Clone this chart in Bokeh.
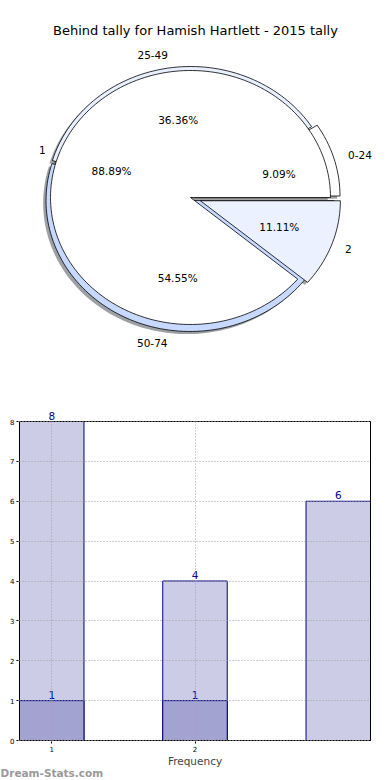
import numpy as np
from bokeh.plotting import figure
from bokeh.models import Range1d, FixedTicker, LabelSet, ColumnDataSource, Title
from bokeh.layouts import column
from bokeh.embed import file_html
from bokeh.resources import INLINE
from bokeh.core.properties import value

# ---------------- data ----------------
title_text = "Behind tally for Hamish Hartlett - 2015 tally"

outer_labels = ["0-24", "25-49", "50-74"]
outer_values = [1, 4, 6]
outer_colors = ["#ffffff", "#e8efff", "#c8d9ff"]
outer_explode = [0.04, 0.0, 0.023]

inner_labels = ["1", "2"]
inner_values = [8, 1]
inner_colors = ["#ffffff", "#ebf1ff"]
inner_explode = [0.0, 0.075]

bar_x = [1, 2, 3]
bar_back = [8, 4, 6]
bar_front_x = [1, 2]
bar_front = [1, 1]
x_ticks = [1, 2]
y_ticks = [0, 1, 2, 3, 4, 5, 6, 7, 8]
x_label = "Frequency"
watermark = "Dream-Stats.com"

FONT = "DejaVu Sans"

# ---------------- pie ----------------
CX, CY = 190.0, 197.0
OUT_RX, OUT_RY = 144.0, 131.0
IN_RX, IN_RY = 140.0, 127.0
SH = 0.02


def pie_geometry(vals, explode, rx, ry):
    fr = np.array(vals, dtype=float) / float(sum(vals))
    edges = np.concatenate([[0.0], np.cumsum(fr)]) * 2 * np.pi
    xs, ys, centers, mids = [], [], [], []
    for i in range(len(vals)):
        a0, a1 = edges[i], edges[i + 1]
        mid = 0.5 * (a0 + a1)
        ox = CX + explode[i] * rx * np.cos(mid)
        oy = CY - explode[i] * ry * np.sin(mid)
        t = np.linspace(a0, a1, max(8, int(200 * fr[i])))
        xs.append([ox] + list(ox + rx * np.cos(t)))
        ys.append([oy] + list(oy - ry * np.sin(t)))
        centers.append((ox, oy))
        mids.append(mid)
    return xs, ys, centers, mids, fr


def shade(c):
    c = c.lstrip("#")
    r, g, b = (int(c[k:k + 2], 16) for k in (0, 2, 4))
    return "#%02x%02x%02x" % (int(r * 0.3), int(g * 0.3), int(b * 0.3))


pie = figure(width=390, height=378, x_range=Range1d(0, 390), y_range=Range1d(378, 0),
             output_backend="svg", toolbar_location=None, min_border=0,
             x_axis_location=None, y_axis_location=None, frame_align=False)
pie.grid.visible = False
pie.outline_line_color = None
pie.background_fill_color = "white"

geoms = [
    (outer_labels, outer_values, outer_colors, outer_explode, OUT_RX, OUT_RY),
    (inner_labels, inner_values, inner_colors, inner_explode, IN_RX, IN_RY),
]
computed = [pie_geometry(v, e, rx, ry) + (labs, cols, rx, ry)
            for (labs, v, cols, e, rx, ry) in geoms]

# shadows first (all below wedges)
for xs, ys, centers, mids, fr, labs, cols, rx, ry in computed:
    sxs = [[x - SH * rx for x in xx] for xx in xs]
    sys_ = [[y + SH * ry for y in yy] for yy in ys]
    pie.patches(sxs, sys_, fill_color=[shade(c) for c in cols], fill_alpha=0.5, line_color=None)

# wedges
for xs, ys, centers, mids, fr, labs, cols, rx, ry in computed:
    pie.patches(xs, ys, fill_color=cols, line_color="black", line_width=0.8)

# labels
for xs, ys, centers, mids, fr, labs, cols, rx, ry in computed:
    for (ox, oy), mid, f, lab in zip(centers, mids, fr, labs):
        lx = ox + 1.1 * rx * np.cos(mid)
        ly = oy - 1.1 * ry * np.sin(mid)
        pie.text([lx], [ly], text=[lab], text_font=value(FONT), text_font_size="10.5px",
                 text_align="left" if np.cos(mid) > 0 else "right", text_baseline="middle",
                 text_color="black")
        px = ox + 0.6 * rx * np.cos(mid)
        py = oy - 0.6 * ry * np.sin(mid)
        pie.text([px], [py], text=["%.2f%%" % (100 * f)], text_font=value(FONT),
                 text_font_size="10.5px", text_align="center", text_baseline="middle",
                 text_color="black")

pie.text([195], [30], text=[title_text], text_font=value(FONT), text_font_size="13px",
         text_align="center", text_baseline="middle", text_color="black")

# ---------------- bars ----------------
X_LO, X_HI = 0.775, 3.225           # plot box in data units
PXU_X, PXU_Y = 143.27, 39.875       # pixels per data unit
Y_TOP = max(y_ticks)
x_pad = 1.0 / PXU_X
y_pad_lo = 1.0 / PXU_Y
y_pad_hi = 43.0 / PXU_Y

bars = figure(width=390, height=402,
              x_range=Range1d(X_LO - x_pad, X_HI + x_pad),
              y_range=Range1d(-y_pad_lo, Y_TOP + y_pad_hi),
              output_backend="svg", toolbar_location=None, frame_align=False,
              min_border_left=18, min_border_right=19, min_border_top=0, min_border_bottom=39)
bars.outline_line_color = None

bars.vbar(x=bar_x, top=bar_back, width=0.45, bottom=0, fill_color="#ccccE6",
          line_color="#000080", line_width=1)
bars.vbar(x=bar_front_x, top=bar_front, width=0.45, bottom=0, fill_color="#a3a3d1",
          line_color="#000080", line_width=1)

# plot box
bars.quad(left=[X_LO], right=[X_HI], bottom=[0], top=[Y_TOP], fill_color=None,
          line_color="black", line_width=1)

src_back = ColumnDataSource(dict(x=bar_x, y=bar_back, t=[str(v) for v in bar_back]))
src_front = ColumnDataSource(dict(x=bar_front_x, y=bar_front, t=[str(v) for v in bar_front]))
for src in (src_back, src_front):
    bars.add_layout(LabelSet(x="x", y="y", text="t", source=src, text_font=value(FONT),
                             text_font_size="10.5px", text_align="center",
                             text_baseline="bottom", text_color="#00008b", y_offset=2))

bars.xaxis.ticker = FixedTicker(ticks=x_ticks)
bars.yaxis.ticker = FixedTicker(ticks=y_ticks)
bars.xgrid.ticker = FixedTicker(ticks=x_ticks)
bars.ygrid.ticker = FixedTicker(ticks=y_ticks)
bars.xgrid.cross_bounds = (0, Y_TOP)
bars.ygrid.cross_bounds = (X_LO, X_HI)
for g in (bars.xgrid, bars.ygrid):
    g.grid_line_color = "#a0a0a0"
    g.grid_line_dash = "1 2"
    g.grid_line_width = 1
    g.level = "overlay"

for ax in (bars.xaxis, bars.yaxis):
    ax.major_label_text_font = FONT
    ax.major_label_text_font_size = "7px"
    ax.major_label_text_color = "black"
    ax.major_tick_in = 0
    ax.major_tick_out = 2
    ax.minor_tick_line_color = None
    ax.axis_line_color = None
    ax.major_label_standoff = 2

bars.xaxis.axis_label = x_label
bars.xaxis.axis_label_text_font = FONT
bars.xaxis.axis_label_text_font_size = "10.5px"
bars.xaxis.axis_label_text_font_style = "normal"
bars.xaxis.axis_label_standoff = 0

bars.add_layout(Title(text=watermark, align="left", offset=-18, standoff=-5,
                      vertical_align="top",
                      text_font=FONT, text_font_size="10.5px", text_font_style="bold",
                      text_color="#999999"), "below")

layout = column(pie, bars, spacing=0)
open("out.html", "w").write(file_html(layout, INLINE))
